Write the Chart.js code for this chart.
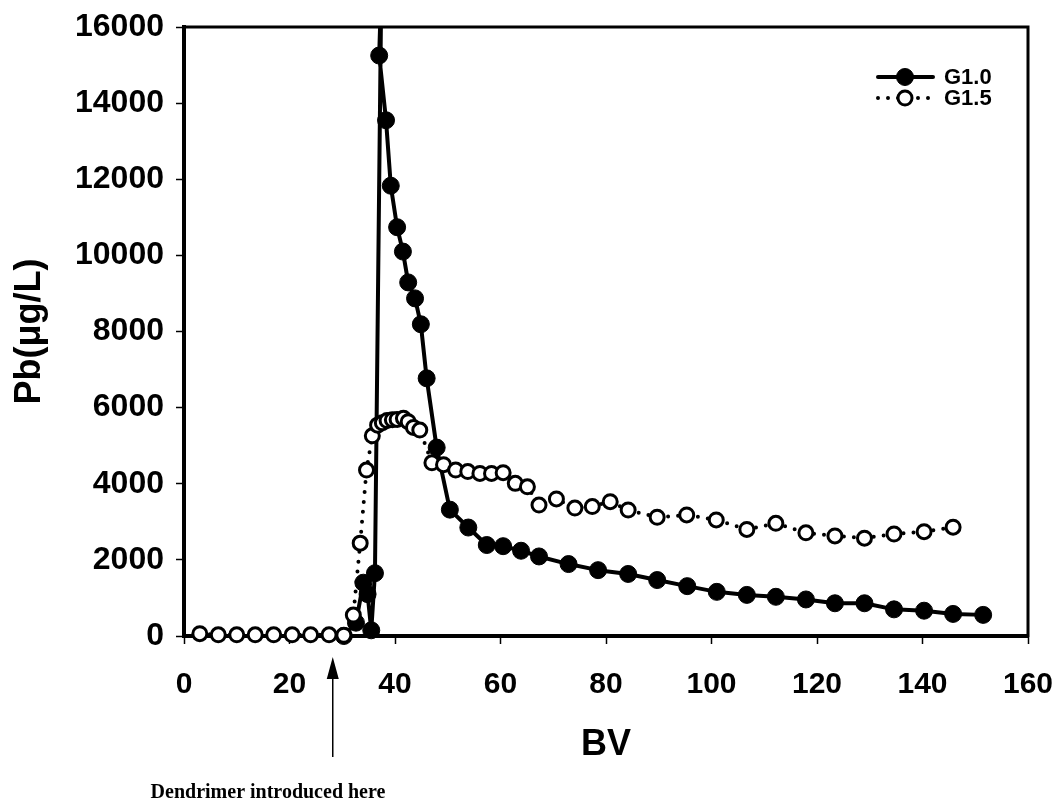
<!DOCTYPE html>
<html>
<head>
<meta charset="utf-8">
<script src="https://cdn.jsdelivr.net/npm/chart.js@4/dist/chart.umd.min.js"></script>
<style>
  html, body { margin: 0; padding: 0; background: #fff; }
  canvas { display: block; }
</style>
</head>
<body>
<canvas id="c" width="1058" height="806"></canvas>
<script>
// Bed volumes (BV) and lead concentration (µg/L) for each dendrimer generation
const g10BV = [30.3, 32.6, 34.0, 34.8, 35.5, 36.2, 37.4, 37.0, 38.3, 39.2, 40.4, 41.5, 42.5, 43.8, 44.9, 46.0, 47.9, 50.4, 53.9, 57.4, 60.5, 63.9, 67.3, 72.9, 78.5, 84.2, 89.7, 95.4, 101.0, 106.7, 112.2, 117.9, 123.4, 129.0, 134.6, 140.3, 145.8, 151.5];
const g10Pb = [0, 350, 1400, 1100, 150, 1650, 17000, 15250, 13550, 11830, 10740, 10100, 9290, 8870, 8190, 6770, 4950, 3320, 2850, 2390, 2360, 2240, 2090, 1890, 1730, 1630, 1470, 1310, 1160, 1080, 1030, 960, 860, 860, 700, 665, 580, 555];

const g15BV = [3.0, 6.5, 10.0, 13.5, 17.0, 20.5, 24.0, 27.5, 30.3, 32.1, 33.4, 34.6, 35.7, 36.7, 37.6, 38.5, 39.5, 40.4, 41.6, 42.5, 43.5, 44.7, 47.0, 49.2, 51.5, 53.8, 56.1, 58.3, 60.5, 62.8, 65.1, 67.3, 70.6, 74.1, 77.4, 80.8, 84.2, 89.7, 95.3, 100.9, 106.7, 112.2, 117.9, 123.4, 129.0, 134.6, 140.3, 145.8];
const g15Pb = [60, 30, 30, 30, 30, 30, 30, 30, 20, 550, 2440, 4360, 5260, 5540, 5600, 5660, 5680, 5690, 5720, 5630, 5480, 5410, 4550, 4500, 4360, 4320, 4270, 4270, 4290, 4010, 3920, 3440, 3600, 3360, 3400, 3530, 3310, 3120, 3180, 3050, 2800, 2960, 2710, 2630, 2570, 2680, 2740, 2860];

const seriesNames = ['G1.0', 'G1.5'];
const xTicks = [0, 20, 40, 60, 80, 100, 120, 140, 160];
const yTicks = [0, 2000, 4000, 6000, 8000, 10000, 12000, 14000, 16000];
const xTitle = 'BV';
const yTitle = 'Pb(\u03BCg/L)';
const noteText = 'Dendrimer introduced here';
const noteBV = 28.2;

const SANS = '"Liberation Sans", Arial, Helvetica, sans-serif';
const SERIF = '"Liberation Serif", "Times New Roman", serif';

const toPoints = (xs, ys) => xs.map((x, i) => ({ x, y: ys[i] }));

// Frame, axis titles, legend and the annotation arrow
const decor = {
  id: 'decor',
  afterDraw(chart) {
    const { ctx, chartArea: a, scales: { x } } = chart;
    ctx.save();
    ctx.strokeStyle = '#000';
    ctx.fillStyle = '#000';

    // top and right edges of the plot frame
    ctx.lineWidth = 3;
    ctx.lineCap = 'square';
    ctx.beginPath();
    ctx.moveTo(a.left, a.top);
    ctx.lineTo(a.right, a.top);
    ctx.lineTo(a.right, a.bottom);
    ctx.stroke();

    // axis titles
    ctx.font = 'bold 36px ' + SANS;
    ctx.textAlign = 'center';
    ctx.textBaseline = 'middle';
    ctx.fillText(xTitle, (a.left + a.right) / 2, 745);
    ctx.save();
    ctx.translate(30, (a.top + a.bottom) / 2);
    ctx.rotate(-Math.PI / 2);
    ctx.fillText(yTitle, 0, 0);
    ctx.restore();

    // arrow marking where the dendrimer was introduced
    const ax = x.getPixelForValue(noteBV);
    ctx.lineWidth = 1.5;
    ctx.lineCap = 'butt';
    ctx.beginPath();
    ctx.moveTo(ax, 757);
    ctx.lineTo(ax, 672);
    ctx.stroke();
    ctx.beginPath();
    ctx.moveTo(ax, 657);
    ctx.lineTo(ax - 6, 679);
    ctx.lineTo(ax + 6, 679);
    ctx.closePath();
    ctx.fill();

    ctx.font = 'bold 20px ' + SERIF;
    ctx.fillText(noteText, 268, 793);

    // legend: line sample with marker, then the series name
    chart.data.datasets.forEach((ds, i) => {
      const ly = 77 + i * 21;
      const x0 = 878, x1 = 933, mx = 905;
      ctx.save();
      ctx.lineWidth = ds.borderWidth;
      ctx.lineCap = ds.borderCapStyle || 'butt';
      ctx.setLineDash(ds.borderDash || []);
      ctx.beginPath();
      ctx.moveTo(x0, ly);
      ctx.lineTo(x1, ly);
      ctx.stroke();
      ctx.setLineDash([]);
      ctx.beginPath();
      ctx.arc(mx, ly, ds.pointRadius, 0, Math.PI * 2);
      ctx.fillStyle = ds.pointBackgroundColor;
      ctx.fill();
      ctx.lineWidth = ds.pointBorderWidth;
      ctx.strokeStyle = ds.pointBorderColor;
      ctx.stroke();
      ctx.restore();
      ctx.font = 'bold 22px ' + SANS;
      ctx.textAlign = 'left';
      ctx.fillText(ds.label, 944, ly + 1);
    });
    ctx.restore();
  }
};

const xTickFont = { family: SANS, size: 30, weight: 'bold' };
const yTickFont = { family: SANS, size: 32, weight: 'bold' };
const plain = v => String(v);

new Chart(document.getElementById('c'), {
  type: 'scatter',
  data: {
    datasets: [
      {
        label: seriesNames[0],
        data: toPoints(g10BV, g10Pb),
        showLine: true,
        borderColor: '#000',
        borderWidth: 4,
        borderCapStyle: 'round',
        borderJoinStyle: 'round',
        pointRadius: 8.5,
        pointBackgroundColor: '#000',
        pointBorderColor: '#000',
        pointBorderWidth: 1,
        tension: 0,
        order: 1,
        clip: { left: false, top: 0, right: false, bottom: false }
      },
      {
        label: seriesNames[1],
        data: toPoints(g15BV, g15Pb),
        showLine: true,
        borderColor: '#000',
        borderWidth: 4,
        borderCapStyle: 'round',
        borderDash: [0, 10],
        pointRadius: 7,
        pointBackgroundColor: '#fff',
        pointBorderColor: '#000',
        pointBorderWidth: 3,
        tension: 0,
        order: 0,
        clip: { left: false, top: 0, right: false, bottom: false }
      }
    ]
  },
  options: {
    responsive: false,
    animation: false,
    devicePixelRatio: 1,
    events: [],
    layout: { padding: { left: 0, top: 27, right: 30, bottom: 0 } },
    plugins: { legend: { display: false }, tooltip: { enabled: false } },
    scales: {
      x: {
        type: 'linear',
        min: 0,
        max: 160,
        afterBuildTicks: s => { s.ticks = xTicks.map(v => ({ value: v })); },
        afterFit: s => { s.height = 170; s.paddingLeft = 0; s.paddingRight = 0; },
        grid: { display: true, drawOnChartArea: false, drawTicks: true, tickLength: 8, tickWidth: 1.5, tickColor: '#000' },
        border: { display: true, color: '#000', width: 4 },
        ticks: { color: '#000', font: xTickFont, padding: 23, maxRotation: 0, autoSkip: false, callback: plain }
      },
      y: {
        type: 'linear',
        min: 0,
        max: 16000,
        afterBuildTicks: s => { s.ticks = yTicks.map(v => ({ value: v })); },
        afterFit: s => { s.width = 184; s.paddingTop = 0; s.paddingBottom = 0; },
        grid: { display: true, drawOnChartArea: false, drawTicks: true, tickLength: 8, tickWidth: 1.5, tickColor: '#000' },
        border: { display: true, color: '#000', width: 4 },
        ticks: { color: '#000', font: yTickFont, padding: 12, autoSkip: false, callback: plain }
      }
    }
  },
  plugins: [decor]
});
</script>
</body>
</html>
